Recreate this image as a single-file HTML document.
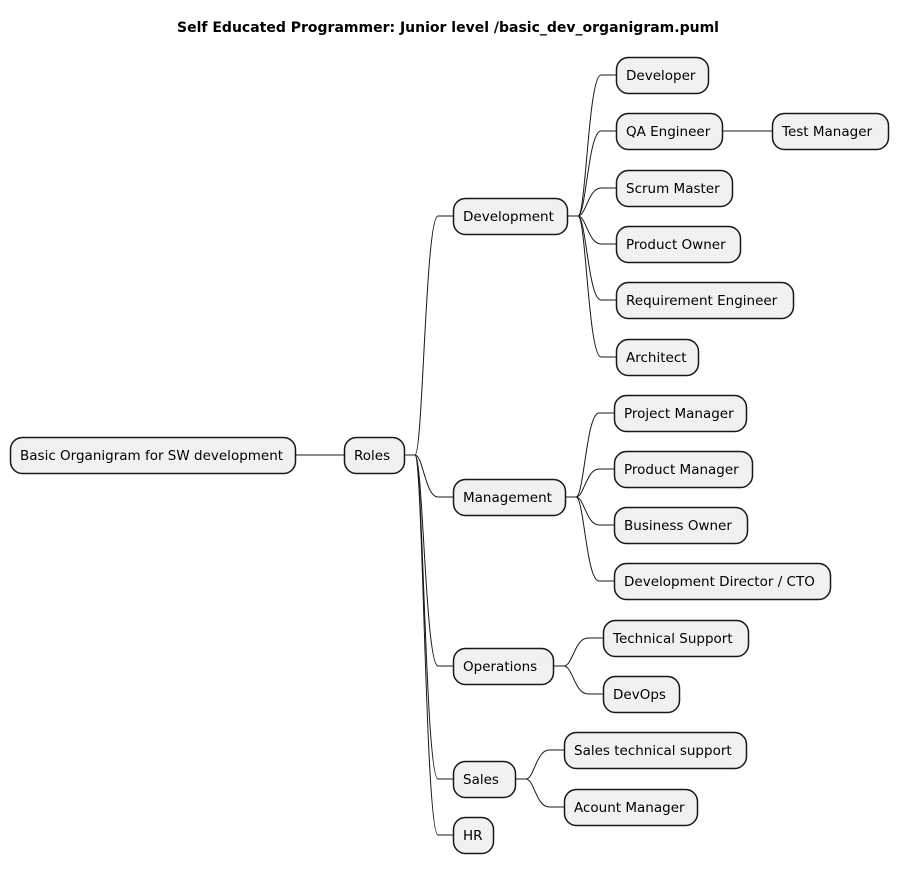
<!DOCTYPE html>
<html><head><meta charset="utf-8"><style>
html,body{margin:0;padding:0;background:#fff;}
svg{display:block;}
text{font-family:"DejaVu Sans","Liberation Sans",sans-serif;font-size:13.5px;fill:#000;}
</style></head><body>
<svg width="898" height="874" viewBox="0 0 898 874" xmlns="http://www.w3.org/2000/svg">
<text x="448" y="32" text-anchor="middle" style="font-weight:bold;font-size:14px">Self Educated Programmer: Junior level /basic_dev_organigram.puml</text>
<g id="lines" fill="none" stroke="#181818" stroke-width="1"></g>
<g id="nodes"></g>
</svg>
<script>
var nodes=[
["r",10,437,285,"Basic Organigram for SW development",null],
["roles",344,437,60,"Roles","r"],
["dev",453,198,114,"Development","roles"],
["a",616,57,92,"Developer","dev"],
["qa",616,113,106,"QA Engineer","dev"],
["b",772,113,116,"Test Manager","qa"],
["c",616,170,116,"Scrum Master","dev"],
["d",616,226,124,"Product Owner","dev"],
["e",616,282,177,"Requirement Engineer","dev"],
["f",616,339,82,"Architect","dev"],
["mg",453,479,112,"Management","roles"],
["g",614,395,132,"Project Manager","mg"],
["h",614,451,138,"Product Manager","mg"],
["i",614,507,133,"Business Owner","mg"],
["j",614,563,216,"Development Director / CTO","mg"],
["op",453,648,100,"Operations","roles"],
["k",603,620,145,"Technical Support","op"],
["l",603,676,76,"DevOps","op"],
["sa",453,761,62,"Sales","roles"],
["m",564,732,182,"Sales technical support","sa"],
["n",564,789,133,"Acount Manager","sa"],
["o",453,817,40,"HR","roles"]
];
var NS="http://www.w3.org/2000/svg",map={},L=document.getElementById("lines"),N=document.getElementById("nodes");
nodes.forEach(function(n){map[n[0]]=n;});
nodes.forEach(function(n){
 var H=36;
 if(n[5]){var p=map[n[5]];var x1=p[1]+p[3],y1=p[2]+18,x2=n[1],y2=n[2]+18;
  var path=document.createElementNS(NS,"path");var d;
  if(Math.abs(y1-y2)<1){d="M"+x1+","+y1+" L"+x2+","+y2;}
  else{var sx=x1+11,ex=x2-15,dx=ex-sx;
   d="M"+x1+","+y1+" L"+sx+","+y1+" C"+(sx+dx*0.35)+","+y1+" "+(sx+dx*0.45)+","+y2+" "+ex+","+y2+" L"+x2+","+y2;}
  path.setAttribute("d",d);L.appendChild(path);}
 var r=document.createElementNS(NS,"rect");
 r.setAttribute("x",n[1]+0.5);r.setAttribute("y",n[2]+0.5);r.setAttribute("width",n[3]);r.setAttribute("height",H);
 r.setAttribute("rx",12);r.setAttribute("fill","#F1F1F1");r.setAttribute("stroke","#181818");r.setAttribute("stroke-width","1.5");
 N.appendChild(r);
 var t=document.createElementNS(NS,"text");t.setAttribute("x",n[1]+10);t.setAttribute("y",n[2]+23);t.textContent=n[4];N.appendChild(t);
});
</script>
</body></html>
